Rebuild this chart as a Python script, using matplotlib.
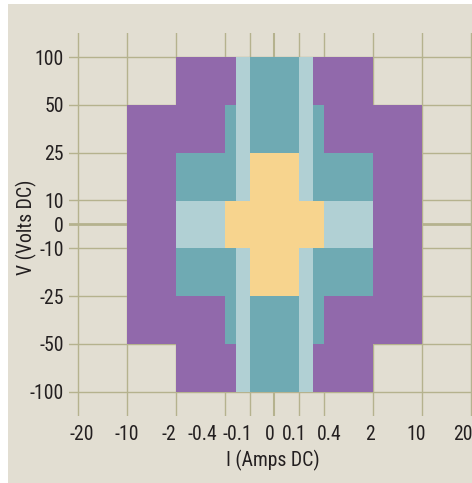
import numpy as np
import matplotlib
matplotlib.use("Agg")
import matplotlib.pyplot as plt
from matplotlib import font_manager
from matplotlib.patches import Rectangle
from matplotlib.transforms import ScaledTranslation, blended_transform_factory

# Axis tick values (non-uniform, evenly laid out)
current_ticks = [-20, -10, -2, -0.4, -0.1, 0, 0.1, 0.4, 2, 10, 20]
voltage_ticks = [-100, -50, -25, -10, 0, 10, 25, 50, 100]

# Operating regions: (I_min, I_max, V_min, V_max)
region_purple = [(-2, 2, -100, 100), (-10, 10, -50, 50)]
region_teal = [(-0.4, 0.4, -50, 50), (-2, 2, -25, 25), (-0.1, 0.1, -100, 100)]
region_light = [(-0.275, -0.1, -100, 100), (0.1, 0.275, -100, 100), (-2, 2, -10, 10)]
region_yellow = [(-0.4, 0.4, -10, 10), (-0.1, 0.1, -25, 25)]

# Horizontal nudges (pixels) applied to the current tick labels
x_label_nudge = [3.9, -0.8, -7.5, -23.2, -13, -4.3, -5, 5.8, -2.2, -5.3, -8]

# Piecewise-linear scales mapping the tick values onto an even layout
_xk = [-40, -30, -20, -10, -2, -0.4, -0.1, 0, 0.1, 0.4, 2, 10, 20, 30, 40]
_xp = [-6, -5, -4, -3, -2, -1, -0.5, 0, 0.5, 1, 2, 3, 4, 5, 6]
_yk = [-200, -150, -100, -50, -25, -10, 0, 10, 25, 50, 100, 150, 200]
_yp = [-5.5, -4.5, -3.5, -2.5, -1.5, -0.5, 0, 0.5, 1.5, 2.5, 3.5, 4.5, 5.5]


def _fx(v):
    return np.interp(v, _xk, _xp)


def _ix(v):
    return np.interp(v, _xp, _xk)


def _fy(v):
    return np.interp(v, _yk, _yp)


def _iy(v):
    return np.interp(v, _yp, _yk)


names = {f.name for f in font_manager.fontManager.ttflist}
if "Roboto Condensed" in names:
    font = dict(family="Roboto Condensed", weight="normal")
elif "Liberation Sans Narrow" in names:
    font = dict(family="Liberation Sans Narrow")
else:
    font = dict(family="DejaVu Sans", stretch="condensed")

BG = "#e2ded2"
GRID = "#b5b28e"
TEXT = "#231f20"
PURPLE = "#9169ab"
TEAL = "#6faab3"
LIGHT = "#b1d0d4"
YELLOW = "#f7d48e"
FS = 14.2

W, H = 472, 483
DPI = 100
fig = plt.figure(figsize=(W / DPI, H / DPI), dpi=DPI, facecolor="white")
fig.patches.append(Rectangle((8 / W, 0), 1, (H - 4) / H, transform=fig.transFigure,
                             facecolor=BG, edgecolor="none", zorder=-10))

# axes placement in pixels
left_px, right_px = 68.5, 495.2
top_px, bottom_px = 33.2, 415.6
aw, ah = right_px - left_px, bottom_px - top_px
ax = fig.add_axes([left_px / W, (H - bottom_px) / H, aw / W, ah / H])
ax.set_xscale("function", functions=(_fx, _ix))
ax.set_yscale("function", functions=(_fy, _iy))
ax.set_xlim(-22, 25)
ax.set_ylim(-125, 125)
ax.set_facecolor("none")
for s in ax.spines.values():
    s.set_visible(False)

for v in current_ticks:
    ax.axvline(v, color=GRID, lw=1.5 if v == 0 else 1.0, zorder=1)
for v in voltage_ticks:
    ax.axhline(v, color=GRID, lw=2.0 if v == 0 else 1.0, zorder=1)

for regions, color in [(region_purple, PURPLE), (region_teal, TEAL),
                       (region_light, LIGHT), (region_yellow, YELLOW)]:
    for (i0, i1, v0, v1) in regions:
        ax.fill_between([i0, i1], [v0, v0], [v1, v1], color=color, lw=0, zorder=2)

# current tick labels, set a little below the grid with per-label nudges
ax.set_xticks(current_ticks)
ax.set_xticklabels([])
xtrans = blended_transform_factory(ax.transData, ax.transAxes)
label_y = (bottom_px - 435) / ah
for t, dx in zip(current_ticks, x_label_nudge):
    ax.text(t, label_y, f"{t:g}", fontsize=FS, color=TEXT, ha="center", va="center",
            transform=xtrans + ScaledTranslation(dx / DPI, 0, fig.dpi_scale_trans),
            clip_on=False, **font)

ax.set_yticks(voltage_ticks)
ax.set_yticklabels([f"{t:g}" for t in voltage_ticks])
ax.minorticks_off()
ax.tick_params(length=0, labelsize=FS, labelcolor=TEXT)
ax.tick_params(axis="y", pad=3.2)
for lab in ax.get_yticklabels():
    lab.set(**font)

ax.set_xlabel("I (Amps DC)", fontsize=FS, color=TEXT, **font)
ax.xaxis.label.set_va("center")
ax.xaxis.set_label_coords((272.7 - left_px) / aw, (bottom_px - 460) / ah)
ax.set_ylabel("V (Volts DC)", fontsize=FS, color=TEXT, **font)
ax.yaxis.label.set_va("center")
ax.yaxis.set_label_coords((26 - left_px) / aw, (bottom_px - 227.5) / ah)

fig.savefig("out.png", dpi=DPI, facecolor=fig.get_facecolor())
